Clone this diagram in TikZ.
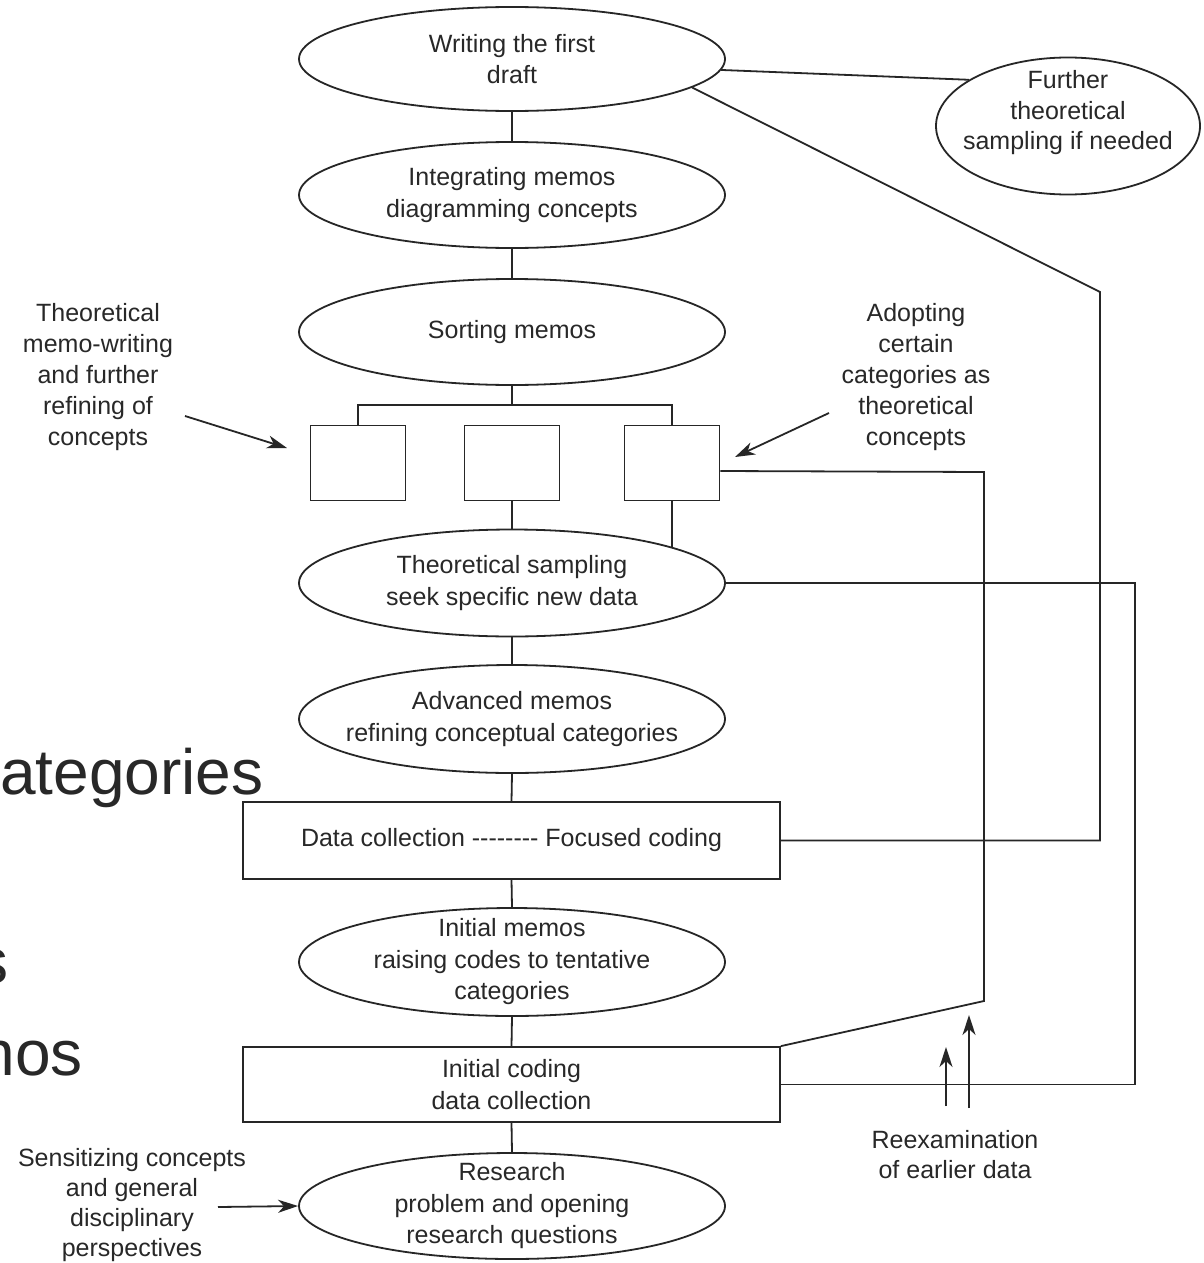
\documentclass[tikz,border=0pt]{standalone}
\usepackage{fontspec}
\setmainfont{Liberation Sans}
\usetikzlibrary{shapes.geometric,arrows.meta}
\definecolor{ink}{HTML}{262626}
\definecolor{txt}{HTML}{282828}
\newcommand\hy{-\kern0pt}
\begin{document}
\begin{tikzpicture}[x=1pt,y=-1pt,
  every node/.style={font=\fontsize{25}{31.5}\selectfont, text=txt},
  oval/.style={ellipse, draw=ink, line width=1.8pt, minimum width=426pt, minimum height=106pt, inner xsep=-60pt, inner ysep=-20pt, align=center},
  rbox/.style={rectangle, draw=ink, line width=1.8pt, minimum width=537pt, minimum height=76pt, inner sep=0pt, align=center},
  sbox/.style={rectangle, draw=ink, line width=1.8pt, minimum width=95pt, minimum height=75pt, inner sep=0pt},
  link/.style={draw=ink, line width=1.8pt},
  arr/.style={link, -{Stealth[length=20pt,width=13pt,inset=6pt]}},
  lbl/.style={align=center, inner sep=0pt, font=\fontsize{25}{31}\selectfont},
  ghost/.style={font=\fontsize{64}{64}\selectfont, text=txt, inner sep=0pt}
]
\useasboundingbox[fill=white] (0,0) rectangle (1203,1263);

% background fragments
\node[ghost, anchor=base west] (g1) at (0,794) {ategories};
\node[ghost, anchor=base east] (g2) at (9,983) {s};
\node[ghost, anchor=base east] (g3) at (83,1075) {nos};

% main column
\node[oval, minimum height=104pt] (E1) at (512,59) {Writing the first\\draft};
\node[oval] (E2) at (512,195) {Integrating memos\\diagramming concepts};
\node[oval] (E3) at (512,332) {Sorting memos};
\coordinate (bus) at (512,406);
\node[sbox] (B1) at (358,463) {};
\node[sbox] (B2) at (512,463) {};
\node[sbox] (B3) at (672,463) {};
\node[oval, minimum height=107pt] (TS) at (512,583) {Theoretical sampling\\seek specific new data};
\node[oval, minimum height=108pt] (AM) at (512,719) {Advanced memos\\refining conceptual categories};
\node[rbox, minimum height=77pt] (DC) at (511.5,840.5) {Data collection \hy\hy\hy\hy\hy\hy\hy\hy{} Focused coding};
\node[oval, minimum height=108pt] (IM) at (512,962) {Initial memos\\raising codes to tentative\\categories};
\node[rbox, minimum height=75pt] (IC) at (511.5,1084.5) {Initial coding\\data collection};
\node[oval, minimum height=106pt] (RQ) at (512,1206) {Research\\problem and opening\\research questions};

% side ellipse
\node[ellipse, draw=ink, line width=1.8pt, minimum width=264pt, minimum height=137pt, inner sep=0pt] (F) at (1068,126) {};
\node[lbl, font=\fontsize{25}{30.5}\selectfont] (Ft) at (1068,113) {Further\\theoretical\\sampling if needed};

% labels
\node[lbl] (L1) at (98,377) {Theoretical\\memo-writing\\and further\\refining of\\concepts};
\node[lbl] (L2) at (916,377) {Adopting\\certain\\categories as\\theoretical\\concepts};
\node[lbl, font=\fontsize{25}{30}\selectfont] (L3) at (132,1205) {Sensitizing concepts\\and general\\disciplinary\\perspectives};
\node[lbl, font=\fontsize{25}{30}\selectfont] (L4) at (955,1155) {Reexamination\\of earlier data};

% vertical chain
\draw[link] (E1.south) -- (E2.north);
\draw[link] (E2.south) -- (E3.north);
\draw[link] (E3.south) -- (bus);
\draw[link] (B1.north) -- ++(0,-19.5) -| (B3.north);
\draw[link] (B2.south) -- (TS.north);
\draw[link] (B3.south) -- (B3.south |- TS.12.4);
\draw[link] (TS.south) -- (AM.north);
\draw[link] (AM.south) -- (DC.north);
\draw[link] (DC.south) -- (IM.north);
\draw[link] (IM.south) -- (IC.north);
\draw[link] (IC.south) -- (RQ.north);

% feedback loops
\draw[link] (E1.-3) -- (F.155);
\coordinate (k1) at (1100,292);
\draw[link] (E1.-9) -- (k1) |- (DC.east);
\coordinate (k2) at (984,472);
\coordinate (k3) at (984,1001);
\draw[link] ([yshift=-8pt]B3.east) -- (k2) -- (k3) -- (IC.north east);
\coordinate (k4) at (1135,583);
\draw[link] (TS.east) -- (k4) |- (IC.east);

% arrows
\coordinate (a1s) at (185,416); \coordinate (a1e) at (287,448);
\draw[arr] (a1s) -- (a1e);
\coordinate (a2s) at (829,413); \coordinate (a2e) at (735,457);
\draw[arr] (a2s) -- (a2e);
\coordinate (a3s) at (218,1207);
\draw[arr] (a3s) -- (RQ.west);
\coordinate (r1s) at (946,1106); \coordinate (r1e) at (946,1047);
\coordinate (r2s) at (969,1108); \coordinate (r2e) at (969,1015);
\draw[arr] (r1s) -- (r1e);
\draw[arr] (r2s) -- (r2e);
\end{tikzpicture}
\end{document}
